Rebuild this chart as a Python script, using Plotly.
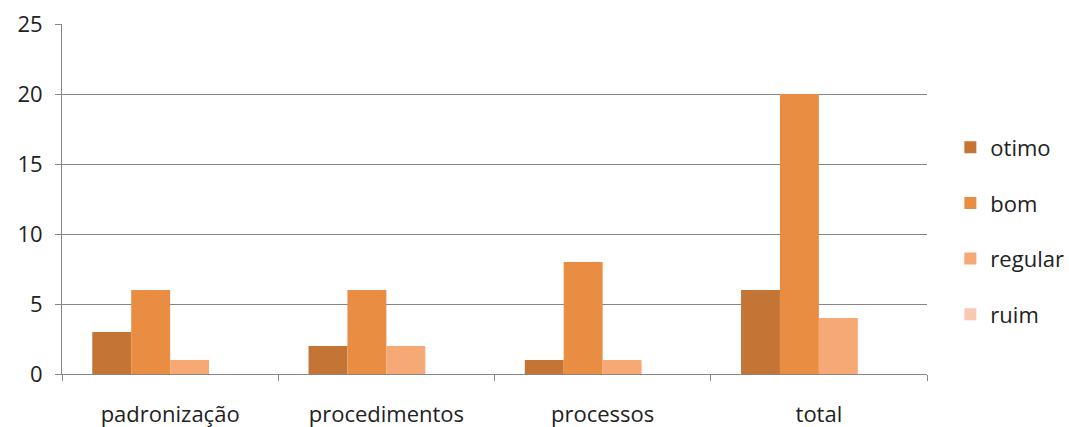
import plotly.graph_objects as go

categories = ["padronização", "procedimentos", "processos", "total"]
series_names = ["otimo", "bom", "regular", "ruim"]
otimo = [3, 2, 1, 6]
bom = [6, 6, 8, 20]
regular = [1, 2, 1, 4]
ruim = [0, 0, 0, 0]
values = [otimo, bom, regular, ruim]
colors = ["#C47535", "#E88D42", "#F6A875", "#F9C8B0"]

fig = go.Figure()
for i, (name, vals, col) in enumerate(zip(series_names, values, colors)):
    fig.add_trace(go.Bar(name=name, x=categories, y=vals, marker_color=col,
                         marker_line_width=0, legendgroup=name))

font = dict(family="Open Sans, sans-serif", size=22, color="#222222")
fig.update_layout(
    width=1069, height=427,
    margin=dict(l=62, r=142, t=24, b=53, autoexpand=False),
    paper_bgcolor="white", plot_bgcolor="white",
    barmode="group", bargap=0.28, bargroupgap=0,
    font=font,
    legend=dict(x=1.027, y=0.707, xanchor="left", yanchor="top",
                traceorder="grouped", tracegroupgap=24,
                font=dict(family="Open Sans, sans-serif", size=22, color="#222222"),
                itemwidth=30),
    xaxis=dict(showline=True, linecolor="#868686", linewidth=1,
               ticks="outside", tickson="boundaries", ticklen=6, tickcolor="#868686",
               ticklabelstandoff=21, showgrid=False, automargin=False),
    yaxis=dict(range=[0, 25], dtick=5, showline=True, linecolor="#868686", linewidth=1,
               ticks="outside", ticklen=6, tickcolor="#868686",
               gridcolor="#868686", gridwidth=1, zeroline=False,
               ticklabelstandoff=8, automargin=False),
)
fig.write_html("out.html")
